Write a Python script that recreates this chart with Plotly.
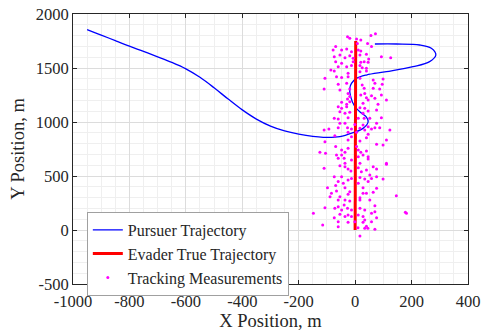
import plotly.graph_objects as go

pursuer_x = [-950, -900, -850, -800, -750, -700, -650, -600, -550, -500, -450, -400, -350, -300, -250, -200, -150, -113, -54, -7, 28, 46, 40, 23, -1, -16, -19, -13, 5, 40, 111, 205, 264, 286, 270, 229, 147, 70]
pursuer_y = [1855, 1805, 1753, 1702, 1654, 1604, 1552, 1492, 1414, 1317, 1212, 1112, 1027, 962, 917, 887, 866, 858, 864, 901, 941, 1000, 1045, 1081, 1142, 1235, 1312, 1358, 1404, 1435, 1466, 1512, 1559, 1620, 1682, 1713, 1722, 1722]

evader_x = [0, 1, 2, 2]
evader_y = [0, 600, 1200, 1750]

meas_x = [-27, -19, 5, 20, 8, 44, 56, 72,
          -69, -78, -48, -30, -13, 11, 20, 58, -74, -54, -36, -19, -7, 17, 40, 48, 93, 126,
          -69, -48, -7, 20, 32, 46, -60, -30, -13, 17, 25, 40, -86, -74, -25, 17, 40,
          -107, -66, -48, -25, 17, 64, 99, -60, -30, 25, 70, 96, -110, -54, -19, 32, 64, 87,
          -25, -19, 20, 34, 58, 40, 93, -27, 70, 111, 46, -48, -30, -19, 28, 81,
          -60, -48, -30, 17, 34, 46, -54, -36, -19, 28, 76, -74, -60, -25, 11, 32, 52, 93,
          -54, -36, -1, 28, 46, 76, -93, -110, -27, -13, 17, 58, 70, 123, 34, -25, 5, 46, 87, -60,
          -107, -72, -25, -13, 17, 40, 111, -125, -105, -69, -48, -36, -66, -25, 5, 11, 20, 40,
          28, 46, 46, 76, 99, -39, -13, 11, -36, 17, 111, -48, -60,
          -110, -54, -36, -25, -15, 11, 22, 40, 64, 76, -74, -48, -25, -13, 17, 34, 52, 76, 58, 99,
          -60, -42, 11, 46, -69, -98, -36, 28, 76, -66, -84, -19, -25, 28, 40, 64,
          -89, -60, -54, -36, -19, 17, 17, 52, 146, -107, -72, -60, -48, -39, -27, -13, 17, 34, 70,
          70, 182, -74, -54, -36, -25, -13, 11, 28, 34, 58, 76, -60, -25, -1, 28, 58,
          -148, -115, 17, 34, 45, 70, -60, 40, 10, 178, 111]
meas_y = [1790, 1775, 1769, 1759, 1728, 1728, 1800, 1818,
          1698, 1667, 1667, 1676, 1651, 1667, 1657, 1698, 1605, 1620, 1596, 1614, 1590, 1620, 1627, 1583, 1605, 1596,
          1559, 1543, 1559, 1553, 1559, 1553, 1512, 1512, 1522, 1522, 1503, 1497, 1482, 1472, 1451, 1466, 1472,
          1404, 1420, 1411, 1420, 1404, 1389, 1398, 1349, 1358, 1343, 1358, 1349, 1306, 1296, 1306, 1312, 1312, 1306,
          1265, 1235, 1250, 1265, 1244, 1225, 1250, 1213, 1219, 1204, 1204, 1182, 1164, 1188, 1173, 1164,
          1142, 1127, 1142, 1133, 1127, 1102, 1096, 1080, 1090, 1080, 1111, 1034, 1028, 1040, 1034, 1034, 1034, 1040,
          988, 988, 978, 972, 957, 988, 935, 926, 947, 935, 941, 935, 947, 926, 926, 904, 904, 886, 947, 947,
          818, 873, 833, 864, 824, 855, 833, 719, 710, 772, 741, 719, 694, 756, 772, 741, 719, 731,
          694, 679, 657, 793, 787, 664, 648, 679, 617, 617, 617, 694, 664,
          571, 596, 586, 565, 546, 577, 540, 556, 586, 565, 494, 494, 463, 478, 485, 472, 509, 494, 478, 472,
          448, 432, 432, 448, 411, 392, 392, 392, 386, 361, 340, 355, 330, 340, 340, 349,
          309, 278, 309, 278, 269, 299, 278, 278, 318, 207, 201, 216, 185, 231, 201, 185, 201, 185, 225,
          170, 154, 114, 145, 124, 139, 124, 139, 124, 93, 154, 114, 77, 71, 77, 71, 77,
          154, 46, -56, 16, 16, 7, 30, 35, 20, 164, 608]

x_ticks = [-1000, -800, -600, -400, -200, 0, 200, 400]
y_ticks = [-500, 0, 500, 1000, 1500, 2000]

FONT = "Times New Roman"
TXT = "#262626"

fig = go.Figure()
fig.add_trace(go.Scatter(x=pursuer_x, y=pursuer_y, mode="lines", name="Pursuer Trajectory",
                         line=dict(color="#0000ff", width=1.3, shape="spline", smoothing=1.0)))
fig.add_trace(go.Scatter(x=evader_x, y=evader_y, mode="lines", name="Evader True Trajectory",
                         line=dict(color="#ff0000", width=3)))
fig.add_trace(go.Scatter(x=meas_x, y=meas_y, mode="markers", name="Tracking Measurements",
                         marker=dict(color="#ff00ff", size=3, line=dict(width=0))))

axis_common = dict(
    showline=True, linecolor=TXT, linewidth=1, mirror="ticks",
    ticks="inside", ticklen=4, tickcolor=TXT,
    showgrid=True, gridcolor="#dcdcdc", gridwidth=1,
    zeroline=False, automargin=False,
    tickfont=dict(family=FONT, size=16.5, color=TXT),
)

fig.update_xaxes(range=[-1000, 400], tickvals=x_ticks, ticktext=[str(v) for v in x_ticks],
                 ticklabelstandoff=2,
                 minor=dict(dtick=50, showgrid=True, gridcolor="#efefef", gridwidth=1, ticks=""),
                 title=dict(text="X Position, m", font=dict(family=FONT, size=18.5, color=TXT), standoff=2),
                 **axis_common)
fig.update_yaxes(range=[-500, 2000], tickvals=y_ticks, ticktext=[str(v) for v in y_ticks],
                 minor=dict(dtick=100, showgrid=True, gridcolor="#efefef", gridwidth=1, ticks=""),
                 title=dict(text="Y Position, m", font=dict(family=FONT, size=18.5, color=TXT), standoff=6),
                 **axis_common)

fig.update_layout(
    width=484, height=333,
    margin=dict(l=73, r=16, t=14, b=49),
    plot_bgcolor="white", paper_bgcolor="white",
    font=dict(family=FONT, color=TXT),
    showlegend=True,
    legend=dict(x=0.035, y=0.267, xanchor="left", yanchor="top",
                bgcolor="white", bordercolor="#a0a0a0", borderwidth=1,
                font=dict(family=FONT, size=16, color=TXT),
                tracegroupgap=0, itemwidth=30),
)

fig.write_html("out.html")
